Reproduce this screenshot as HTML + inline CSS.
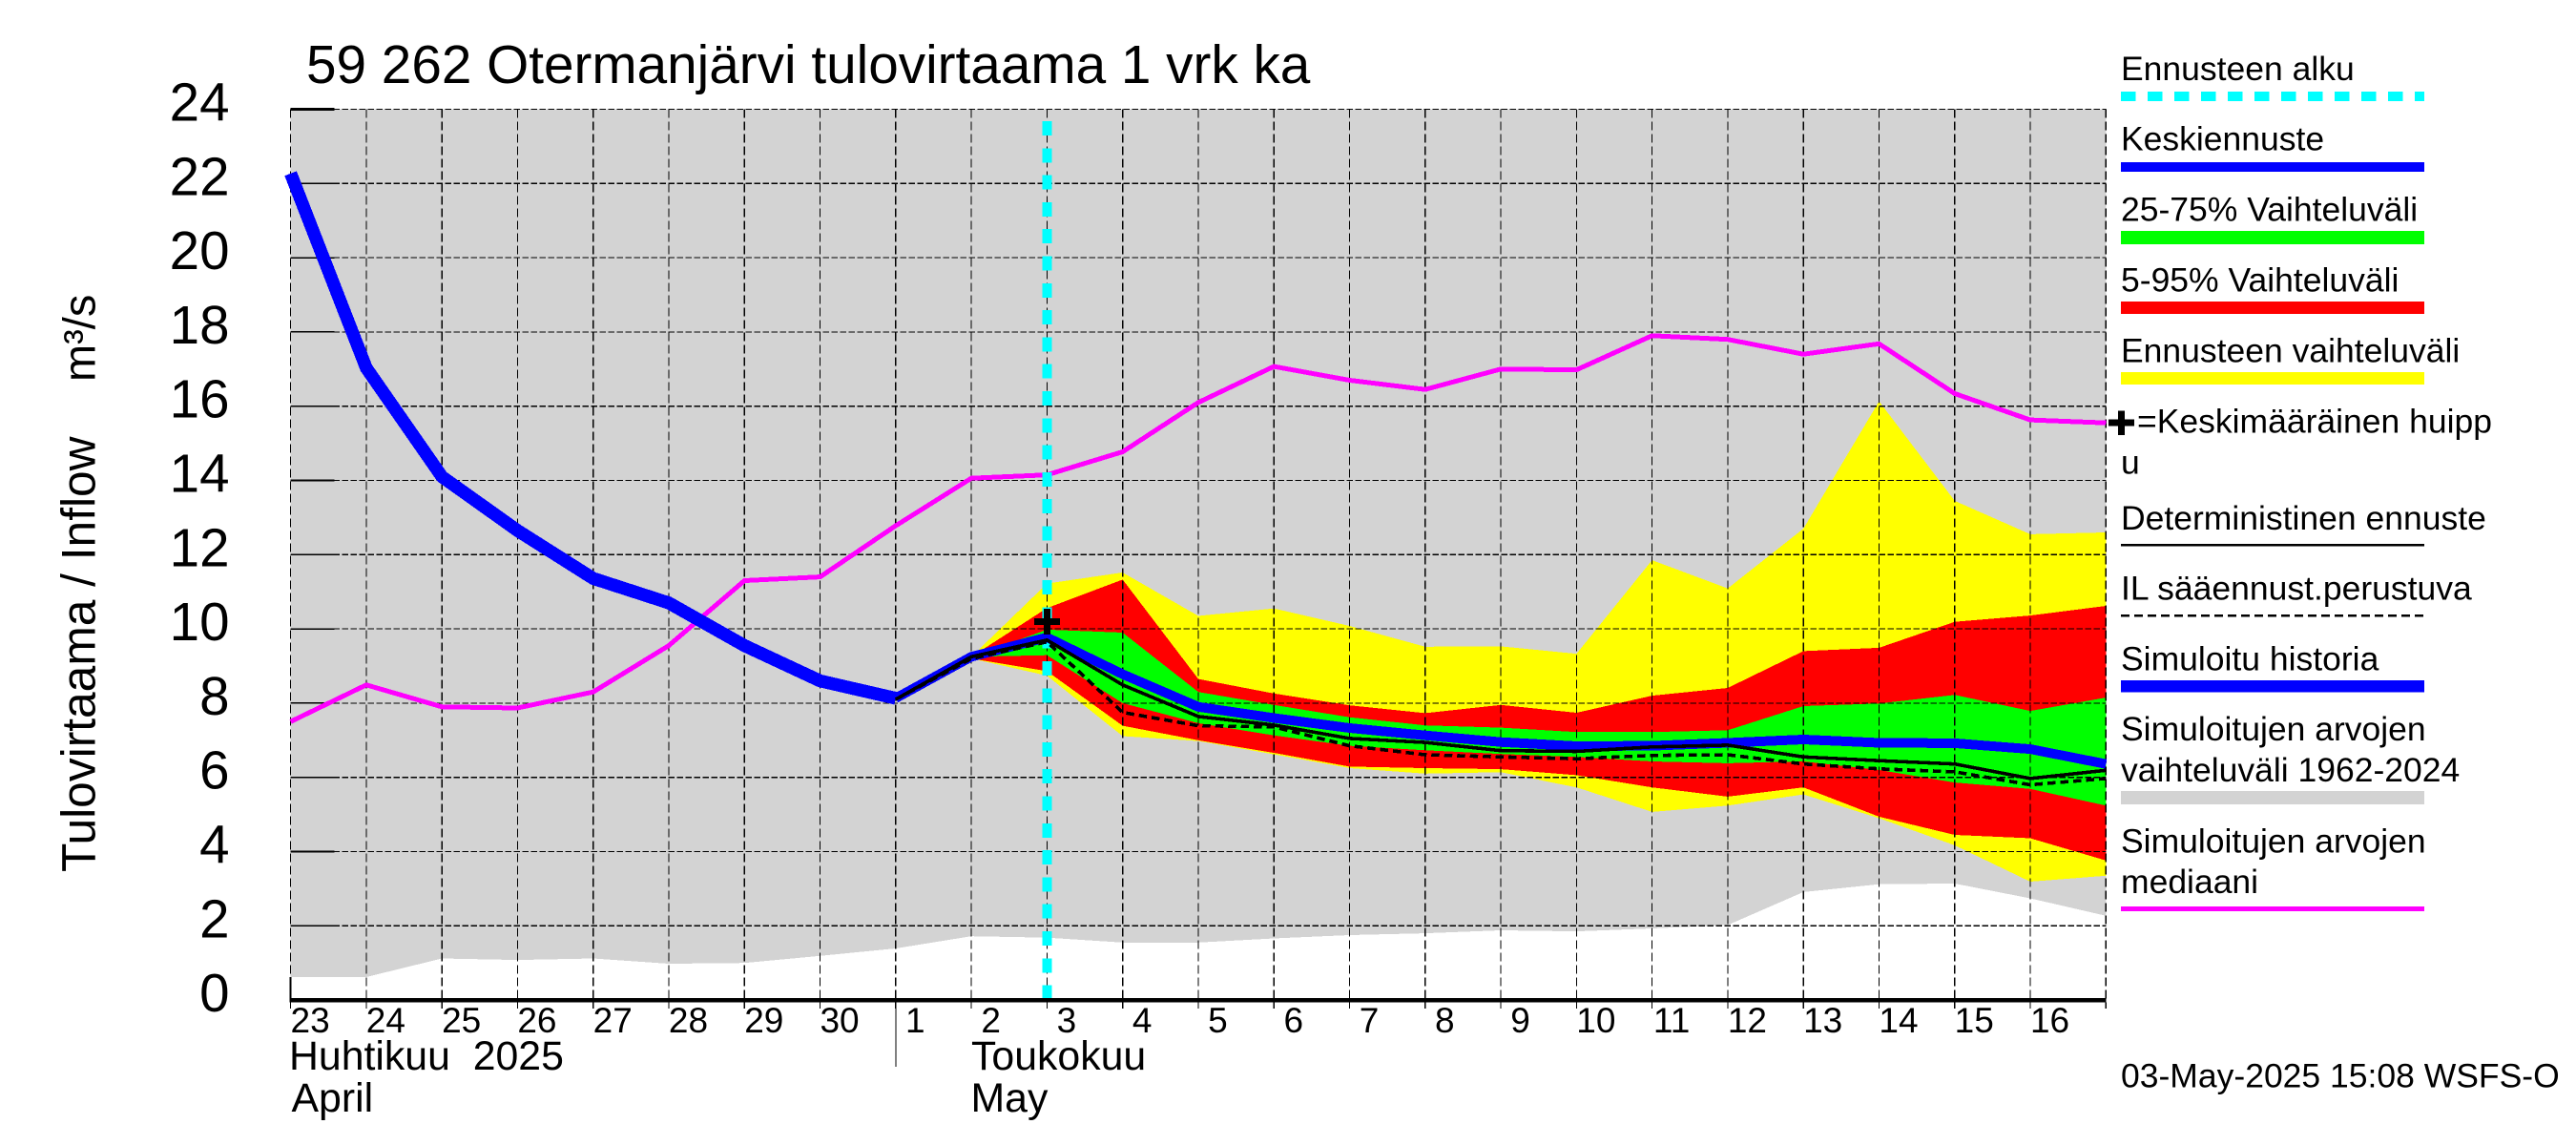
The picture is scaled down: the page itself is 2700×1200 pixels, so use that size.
<!DOCTYPE html>
<html lang="fi">
<head>
<meta charset="utf-8">
<title>Otermanjärvi tulovirtaama</title>
<style>
html,body{margin:0;padding:0;background:#fff;width:2700px;height:1200px;overflow:hidden}
svg{display:block}
text{font-family:"Liberation Sans",Arial,sans-serif;fill:#000}
.leg{font-size:35.5px}
.day{font-size:37px;text-anchor:middle}
.mon{font-size:42.8px}
.ylab{font-size:56.5px;text-anchor:end}
</style>
</head>
<body>
<svg id="chart" xmlns="http://www.w3.org/2000/svg" width="2700" height="1200" viewBox="0 0 2700 1200">
  <rect x="0" y="0" width="2700" height="1200" fill="#fff"/>
  <g id="plot"></g>
  <g id="yLabels"></g>
  <g id="xLabels"></g>

  <text x="321" y="87" font-size="56.7">59 262 Otermanjärvi tulovirtaama 1 vrk ka</text>
  <text transform="translate(99.5,914) rotate(-90)" font-size="49.7">Tulovirtaama / Inflow</text>
  <text transform="translate(99.5,400) rotate(-90)" font-size="47">m³/s</text>

  <text class="mon" x="303" y="1121" xml:space="preserve">Huhtikuu  2025</text>
  <text class="mon" x="305.500" y="1165">April</text>
  <text class="mon" x="1018" y="1121">Toukokuu</text>
  <text class="mon" x="1017.500" y="1165">May</text>
  <line x1="939" y1="1048" x2="939" y2="1118" stroke="#000" stroke-width="1" shape-rendering="crispEdges"/>

  <g shape-rendering="crispEdges">
    <text class="leg" x="2223" y="84">Ennusteen alku</text>
    <line x1="2223" y1="100.8" x2="2541" y2="100.8" stroke="#00ffff" stroke-width="10" stroke-dasharray="15.4 12.6"/>
    <text class="leg" x="2223" y="157.5">Keskiennuste</text>
    <rect x="2223" y="170" width="318" height="10" fill="#0000ff"/>
    <text class="leg" x="2223" y="231.5">25-75% Vaihteluväli</text>
    <rect x="2223" y="242" width="318" height="14" fill="#00ff00"/>
    <text class="leg" x="2223" y="305.5">5-95% Vaihteluväli</text>
    <rect x="2223" y="316" width="318" height="13" fill="#ff0000"/>
    <text class="leg" x="2223" y="379.5">Ennusteen vaihteluväli</text>
    <rect x="2223" y="390" width="318" height="13" fill="#ffff00"/>
    <path d="M2220 430.5h7v9h10v7h-10v9.500h-7v-9.500h-10v-7h10z" fill="#000"/>
    <text class="leg" x="2240" y="453.500">=Keskimääräinen huipp</text>
    <text class="leg" x="2223" y="496.500">u</text>
    <text class="leg" x="2223" y="555">Deterministinen ennuste</text>
    <rect x="2223" y="570" width="318" height="2.500" fill="#000"/>
    <text class="leg" x="2223" y="628.500">IL sääennust.perustuva</text>
    <line x1="2223" y1="645" x2="2541" y2="645" stroke="#000" stroke-width="2.500" stroke-dasharray="9 5"/>
    <text class="leg" x="2223" y="702.500">Simuloitu historia</text>
    <rect x="2223" y="713" width="318" height="12.500" fill="#0000ff"/>
    <text class="leg" x="2223" y="776">Simuloitujen arvojen</text>
    <text class="leg" x="2223" y="819">vaihteluväli 1962-2024</text>
    <rect x="2223" y="829" width="318" height="14" fill="#d3d3d3"/>
    <text class="leg" x="2223" y="893.500">Simuloitujen arvojen</text>
    <text class="leg" x="2223" y="936">mediaani</text>
    <rect x="2223" y="950" width="318" height="5" fill="#ff00ff"/>
  </g>
  <text class="leg" x="2223" y="1139.500">03-May-2025 15:08 WSFS-O</text>
</svg>
<script>
// ---- data (m³/s) ----
const dayLabels = [23,24,25,26,27,28,29,30,1,2,3,4,5,6,7,8,9,10,11,12,13,14,15,16];
const yTickLabels = [0,2,4,6,8,10,12,14,16,18,20,22,24];
const simulatedLower = [0.62,0.62,1.12,1.08,1.12,0.98,1.0,1.19,1.39,1.72,1.68,1.55,1.55,1.66,1.75,1.8,1.88,1.85,1.93,2.02,2.91,3.12,3.14,2.74,2.27];
const median = [7.5,8.49,7.9,7.87,8.3,9.55,11.3,11.4,12.78,14.06,14.15,14.77,16.1,17.07,16.7,16.45,17.0,16.98,17.9,17.8,17.4,17.68,16.34,15.63,15.55];
const history = [22.27,17.03,14.1,12.65,11.36,10.7,9.55,8.6,8.13];
const meanForecast = [8.13,9.25,9.77,8.78,7.9,7.6,7.33,7.13,6.95,6.84,6.85,6.93,7.02,6.93,6.92,6.76,6.36];
const deterministic = [8.1,9.25,9.7,8.49,7.64,7.41,7.05,6.94,6.72,6.7,6.82,6.87,6.55,6.45,6.36,5.97,6.19];
const ilForecast = [8.1,9.2,9.65,7.75,7.39,7.36,6.85,6.61,6.55,6.5,6.59,6.61,6.36,6.23,6.15,5.8,5.97];
const yellowUpper = [9.25,11.22,11.52,10.35,10.55,10.08,9.52,9.53,9.33,11.85,11.09,12.7,16.13,13.45,12.55,12.6];
const yellowLower = [9.2,8.74,7.11,6.98,6.62,6.25,6.1,6.14,5.73,5.07,5.24,5.54,4.9,4.17,3.19,3.35];
const redUpper = [9.25,10.56,11.33,8.65,8.26,7.94,7.73,7.95,7.74,8.2,8.41,9.4,9.49,10.19,10.36,10.62];
const redLower = [9.2,8.86,7.39,7.0,6.66,6.29,6.25,6.22,6.06,5.73,5.48,5.73,4.94,4.45,4.36,3.76];
const greenUpper = [9.25,9.98,9.9,8.3,7.95,7.62,7.4,7.34,7.22,7.22,7.27,7.92,7.99,8.22,7.79,8.15];
const greenLower = [9.25,9.29,8.0,7.46,7.13,6.85,6.73,6.63,6.55,6.43,6.38,6.43,6.2,5.86,5.69,5.24];
const averagePeak = [10.19];
const forecastStartDay = [10];
const yMaxValue = [24];

// ---- axis functions ----
const X0 = 304.6, DAY = 79.28, Y0 = 1048.1, UNIT = 38.9;
function xAt(i){ return X0 + DAY * i; }
function yAt(v){ return Y0 - UNIT * v; }
const LAST = dayLabels.length;
const SVGNS = 'http://www.w3.org/2000/svg';
const plot = document.getElementById('plot');
const yLabelsG = document.getElementById('yLabels');
const xLabelsG = document.getElementById('xLabels');

function mk(tag, attrs, parent){
  const e = document.createElementNS(SVGNS, tag);
  for (const k in attrs) e.setAttribute(k, attrs[k]);
  (parent || plot).appendChild(e);
  return e;
}
function pts(values, start){
  return values.map(function(v, j){ return xAt(start + j).toFixed(1) + ',' + yAt(v).toFixed(1); });
}
function bandPoints(up, low, start){
  return pts(up, start).concat(pts(low, start).reverse()).join(' ');
}

let el;
// simulated range (gray band)
const grayTop = [xAt(0).toFixed(1) + ',' + yAt(yMaxValue[0]).toFixed(1), xAt(LAST).toFixed(1) + ',' + yAt(yMaxValue[0]).toFixed(1)];
el = mk('polygon', {points: grayTop.concat(pts(simulatedLower, 0).reverse()).join(' '), fill: '#d3d3d3', 'shape-rendering': 'crispEdges'});



// forecast bands
const bandStart = 9;
el = mk('polygon', {points: bandPoints(yellowUpper, yellowLower, bandStart), fill: '#ffff00', 'shape-rendering': 'crispEdges'});


el = mk('polygon', {points: bandPoints(redUpper, redLower, bandStart), fill: '#ff0000', 'shape-rendering': 'crispEdges'});


el = mk('polygon', {points: bandPoints(greenUpper, greenLower, bandStart), fill: '#00ff00', 'shape-rendering': 'crispEdges'});



// grid and ticks
for (let i = 0; i <= LAST; i++) {
  el = mk('line', {x1: xAt(i), x2: xAt(i), y1: yAt(yMaxValue[0]), y2: Y0 + 9, stroke: '#000', 'stroke-width': 1.2, 'stroke-dasharray': '9 4', 'shape-rendering': 'crispEdges'});
  
  
}
yTickLabels.forEach(function(v){
  if (v > 0) {
    el = mk('line', {x1: xAt(0), x2: xAt(LAST), y1: yAt(v), y2: yAt(v), stroke: '#000', 'stroke-width': 1.2, 'stroke-dasharray': '6.5 2.5', 'shape-rendering': 'crispEdges'});
    
    
    el = mk('line', {x1: xAt(0), x2: xAt(0) + 46, y1: yAt(v), y2: yAt(v), stroke: '#000', 'stroke-width': v === yMaxValue[0] ? 3 : 1.6, 'shape-rendering': 'crispEdges'});
    
    
  }
  const t = mk('text', {x: 240.5, y: yAt(v) + 12, 'class': 'ylab'}, yLabelsG);
  
  
  t.textContent = v;
});
el = mk('line', {x1: xAt(0), x2: xAt(0), y1: yAt(simulatedLower[0]), y2: Y0, stroke: '#000', 'stroke-width': 2, 'shape-rendering': 'crispEdges'});



dayLabels.forEach(function(d, i){
  const t = mk('text', {x: xAt(i) + 20.5, y: 1082, 'class': 'day'}, xLabelsG);
  
  
  t.textContent = d;
});

// median
el = mk('polyline', {points: pts(median, 0).join(' '), fill: 'none', stroke: '#ff00ff', 'stroke-width': 5, 'stroke-linejoin': 'round', 'shape-rendering': 'crispEdges'});



// forecast start
el = mk('line', {x1: xAt(forecastStartDay[0]), x2: xAt(forecastStartDay[0]), y1: 127, y2: Y0, stroke: '#00ffff', 'stroke-width': 10, 'stroke-dasharray': '15 13.300', 'shape-rendering': 'crispEdges'});



// simulated history + mean forecast
el = mk('polyline', {points: pts(history, 0).join(' '), fill: 'none', stroke: '#0000ff', 'stroke-width': 13.5, 'stroke-linejoin': 'round', 'shape-rendering': 'crispEdges'});


el = mk('polyline', {points: pts(meanForecast, 8).join(' '), fill: 'none', stroke: '#0000ff', 'stroke-width': 10, 'stroke-linejoin': 'round', 'shape-rendering': 'crispEdges'});



// IL weather forecast + deterministic
el = mk('polyline', {points: pts(ilForecast, 8).join(' '), fill: 'none', stroke: '#000', 'stroke-width': 3.6, 'stroke-dasharray': '8.5 5', 'shape-rendering': 'crispEdges'});


el = mk('polyline', {points: pts(deterministic, 8).join(' '), fill: 'none', stroke: '#000', 'stroke-width': 3.6, 'stroke-linejoin': 'round', 'shape-rendering': 'crispEdges'});



// average peak marker
const mx = xAt(forecastStartDay[0]), my = yAt(averagePeak[0]);
el = mk('path', {d: 'M' + (mx - 3.5) + ' ' + (my - 13.5) + 'h7v10h10v7h-10v10h-7v-10h-10v-7h10z', fill: '#000', 'shape-rendering': 'crispEdges'});



// x axis
el = mk('line', {x1: xAt(0) - 1, x2: xAt(LAST), y1: Y0, y2: Y0, stroke: '#000', 'stroke-width': 4.5, 'shape-rendering': 'crispEdges'});


</script>
</body>
</html>
